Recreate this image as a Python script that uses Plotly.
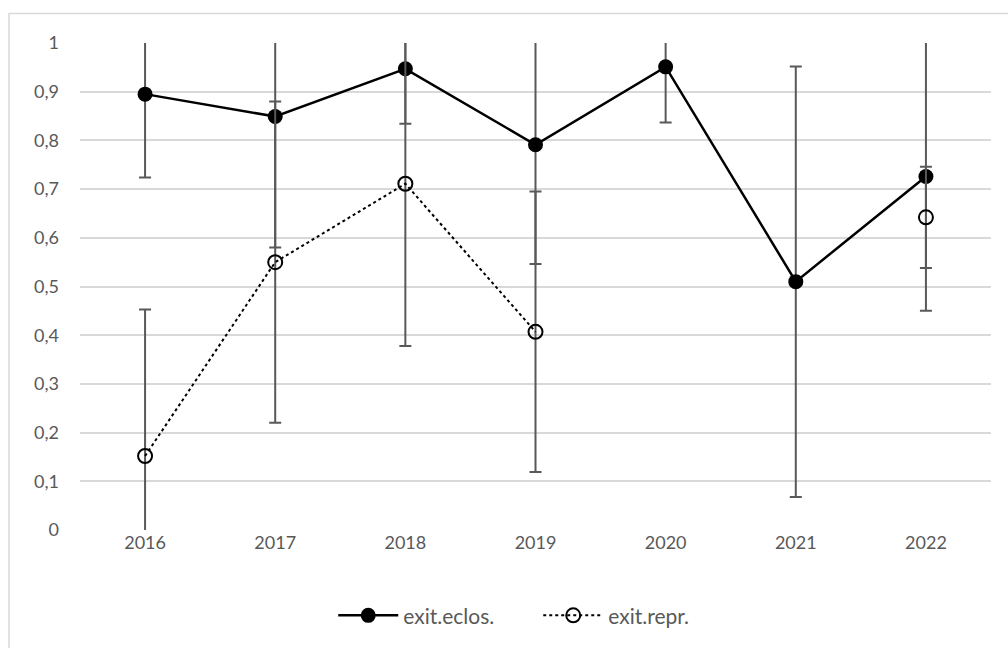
import plotly.graph_objects as go

years = ["2016", "2017", "2018", "2019", "2020", "2021", "2022"]

eclos = [0.895, 0.849, 0.947, 0.791, 0.951, 0.510, 0.726]
eclos_err = [0.171, 0.269, 0.113, 0.245, 0.114, 0.442, 0.276]

repr_ = [0.152, 0.550, 0.711, 0.407, None, None, 0.642]
repr_err = [0.301, 0.330, 0.333, 0.288, None, None, 0.104]

y_ticks = [0, 0.1, 0.2, 0.3, 0.4, 0.5, 0.6, 0.7, 0.8, 0.9, 1]

ERR_COLOR = "#595959"
TEXT_COLOR = "#595959"
GRID_COLOR = "#d9d9d9"

fig = go.Figure()

fig.add_trace(go.Scatter(
    x=years, y=eclos, name="exit.eclos.",
    mode="lines+markers",
    line=dict(color="black", width=2.5),
    marker=dict(symbol="circle", size=15, color="black"),
    error_y=dict(type="data", array=eclos_err, visible=True,
                 color=ERR_COLOR, thickness=2, width=6),
))

fig.add_trace(go.Scatter(
    x=years, y=repr_, name="exit.repr.",
    mode="lines+markers",
    line=dict(color="black", width=2, dash="dot"),
    marker=dict(symbol="circle-open", size=14, color="black",
                line=dict(width=2, color="black")),
    error_y=dict(type="data", array=repr_err, visible=True,
                 color=ERR_COLOR, thickness=2, width=6),
))

# light frame around the chart area (top and left edges fall inside the page)
fig.add_shape(type="rect", xref="paper", yref="paper",
              x0=-0.0779, x1=1.10, y0=-0.40, y1=1.0607,
              line=dict(color=GRID_COLOR, width=1.5), layer="below")

fig.update_layout(
    width=1008, height=648,
    margin=dict(l=80, r=17, t=43, b=118, autoexpand=False),
    paper_bgcolor="white", plot_bgcolor="white",
    separators=", ",
    font=dict(family="Lato, 'Open Sans', sans-serif", size=18, color=TEXT_COLOR),
    showlegend=True,
    legend=dict(orientation="h", x=0.503, xanchor="center",
                y=-0.176, yanchor="middle",
                font=dict(size=21, color=TEXT_COLOR),
                itemwidth=60, entrywidth=130, entrywidthmode="pixels"),
    xaxis=dict(type="category", range=[-0.5, 6.5], showgrid=False,
               showline=False, ticks="", zeroline=False, automargin=False,
               tickfont=dict(size=18)),
    yaxis=dict(range=[0, 1], tickvals=y_ticks, showgrid=True,
               gridcolor=GRID_COLOR, gridwidth=1.5, zeroline=False,
               showline=False, ticks="", ticklabelstandoff=20,
               automargin=False, tickfont=dict(size=18)),
)

fig.write_html("out.html")
